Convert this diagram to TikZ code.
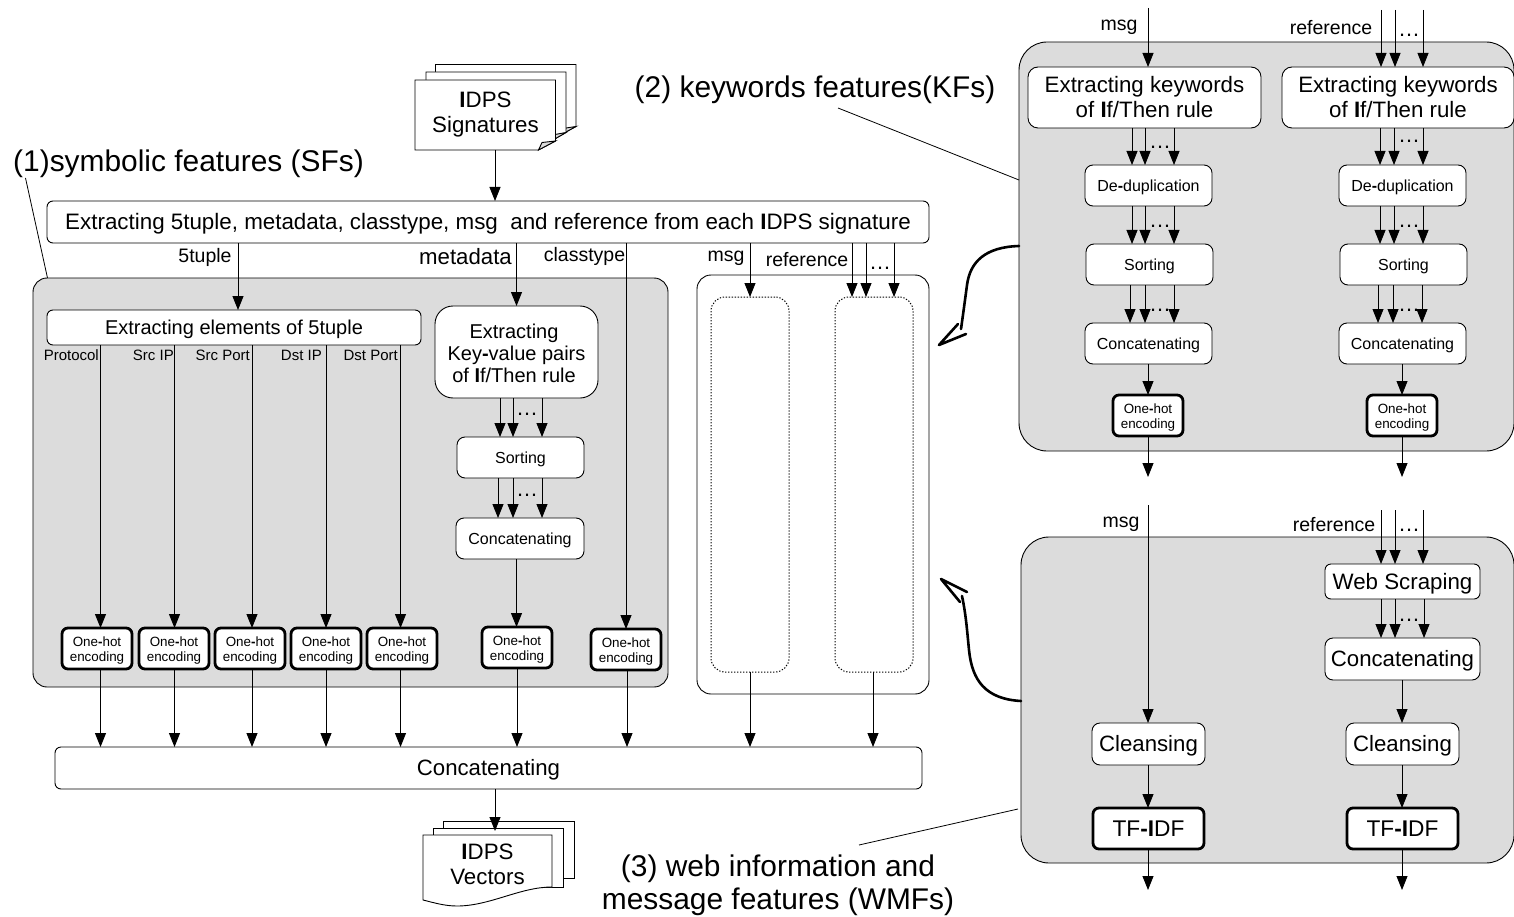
\documentclass[tikz,border=0pt]{standalone}
\usepackage{fontspec}
\setmainfont{Liberation Sans}
\usetikzlibrary{arrows.meta}
\newcommand\fs[2]{\fontsize{#1}{#2}\selectfont}
\newcommand\bI{\textbf{I}}
\newcommand\bh{\textbf{-}}
\newcommand\dn{\rule{0pt}{\dimexpr.74em+4pt\relax}}
\newcommand\bx[7][]{\node[#1,minimum width={((#5)-(#3))*1pt},minimum height={((#6)-(#4))*1pt}] (#2) at ({((#3)+(#5))/2},{((#4)+(#6))/2}) {#7};}
\newcommand\cn[3]{\draw[arr] (#1.south -| #3,0) -- (#2.north -| #3,0);}
\newcommand\ohot[5]{\bx[onehot]{#1}{#2+1}{#3+1}{#4-1}{#5-1}{\dn One\bh hot\\encoding}}
\tikzset{
  base/.style={draw=black,line width=0.9pt,inner sep=0pt,outer sep=0pt,align=center,text=black},
  panel/.style={base,fill=panelgray,rounded corners=#1},
  panel/.default=14pt,
  wbox/.style={base,fill=white,rounded corners=8pt},
  onehot/.style={base,fill=white,rounded corners=6pt,line width=2.8pt,font=\fs{13.4}{15}},
  tfidf/.style={base,fill=white,rounded corners=6pt,line width=2.8pt,font=\fs{22.7}{26}},
  dotbox/.style={draw=black,line width=1pt,dash pattern=on 1.3pt off 1.7pt,rounded corners=14pt,inner sep=0pt,outer sep=0pt},
  arr/.style={draw=black,line width=0.9pt,-{Triangle[length=14pt,width=11pt]}},
  plain/.style={draw=black,line width=0.8pt},
  small/.style={font=\fs{15}{16},inner sep=0pt,anchor=east},
  mid/.style={font=\fs{19.5}{22},inner sep=0pt},
  big/.style={font=\fs{29.9}{33},inner sep=0pt,align=center},
  dots/.style={font=\fs{22}{22},inner sep=0pt},
  page/.style={draw=black,line width=0.9pt,fill=white},
  fold/.style={draw=black,line width=0.9pt,fill=panelgray},
  thick curve/.style={draw=black,line width=2.6pt,line cap=round,line join=round},
  sm/.style={font=\fs{16}{19}},
  md/.style={font=\fs{22.3}{25}},
}
\definecolor{panelgray}{HTML}{DCDCDC}
\begin{document}
\begin{tikzpicture}[x=1pt,y=-1pt]
\useasboundingbox (0,0) rectangle (1514,917);
% panels
\bx[panel]{sfp}{33}{278}{668}{687}{}
\bx[base,fill=white,rounded corners=14pt]{wp}{697}{275}{929}{694}{}
\bx[dotbox]{d1}{711}{297}{789}{672}{}
\bx[dotbox]{d2}{835}{297}{913}{672}{}
\bx[panel=28pt]{kfp}{1019}{42}{1514}{451}{}
\bx[panel=28pt]{wmp}{1021}{537}{1514}{863}{}
% signature stack
\draw[page] (435.5,64.5) -- (576,64.5) -- (576,126.5) -- (564,133) -- (435.5,133) -- cycle;
\draw[fold] (576,126.5) -- (564,133) -- (566,128) -- cycle;
\draw[page] (426,72) -- (566,72) -- (566,132.5) -- (553,140) -- (426,140) -- cycle;
\draw[fold] (566,132.5) -- (553,140) -- (555,134.5) -- cycle;
\draw[page] (415,80) -- (555.5,80) -- (555.5,141) -- (538.5,150) -- (415,150) -- cycle;
\draw[fold] (555.5,141) -- (538.5,150) -- (542,142.5) -- cycle;
\node[inner sep=0pt,outer sep=0pt,minimum width=140.5pt,minimum height=70pt] (sig) at (485.25,115) {};
\node[md,inner sep=0pt,align=center] (sigt) at (485.5,114.5) {\bI DPS\\Signatures};
% vector stack
\draw[page] (443,821) rectangle (574,878);
\draw[page] (433,828) rectangle (563,887);
\draw[page] (423,835) -- (552,835) -- (552,887) .. controls (520,887) and (490,906) .. (457,906) .. controls (445,906) and (435,903) .. (423,900) -- cycle;
\coordinate (vtop) at (495,831);
\node[md,inner sep=0pt,align=center] (vect) at (487.5,864) {\bI DPS\\Vectors};
% main boxes
\bx[wbox,font=\fs{22.37}{24},rounded corners=6pt]{ext}{47}{201}{929}{243}{\dn Extracting 5tuple, metadata, classtype, msg\ \ and reference from each \bI DPS signature}
\bx[wbox,font=\fs{20}{22},rounded corners=6pt]{elem}{47}{310}{421}{345}{\dn Extracting elements of 5tuple}
\bx[wbox,font=\fs{20}{22},rounded corners=18pt]{kv}{435}{306}{598}{398}{\rule{0pt}{\dimexpr.74em+2pt\relax}Extracting\hspace*{5pt}\\Key\bh value pairs\hspace*{5pt}\\of \bI f/Then rule\hspace*{5pt}}
\bx[wbox,sm]{sort1}{457}{437}{584}{478}{\dn Sorting}
\bx[wbox,sm]{conc1}{456}{518}{584}{559}{\dn Concatenating}
\ohot{oh1}{61}{627}{133}{670}
\ohot{oh2}{138}{627}{210}{670}
\ohot{oh3}{214}{627}{286}{670}
\ohot{oh4}{290}{627}{362}{670}
\ohot{oh5}{366}{627}{438}{670}
\ohot{oh6}{481}{626}{553}{669}
\ohot{oh7}{590}{628}{662}{671}
\bx[wbox,font=\fs{22.2}{24},rounded corners=6pt]{concat}{55}{747}{922}{789}{\dn Concatenating}
% KF
\bx[wbox,font=\fs{22.3}{25},rounded corners=10pt]{kk1}{1028}{67}{1261}{128}{Extracting keywords\\of \bI f/Then rule}
\bx[wbox,font=\fs{22.3}{25},rounded corners=10pt]{kk2}{1282}{67}{1514}{128}{Extracting keywords\\of \bI f/Then rule}
\bx[wbox,sm]{dd1}{1085}{165}{1212}{206}{\dn De\bh duplication}
\bx[wbox,sm]{dd2}{1339}{165}{1466}{206}{\dn De\bh duplication}
\bx[wbox,sm]{so1}{1086}{244}{1213}{285}{\dn Sorting}
\bx[wbox,sm]{so2}{1340}{244}{1467}{285}{\dn Sorting}
\bx[wbox,sm]{cc1}{1085}{323}{1212}{364}{\dn Concatenating}
\bx[wbox,sm]{cc2}{1339}{323}{1466}{364}{\dn Concatenating}
\ohot{kh1}{1112}{394}{1184}{437}
\ohot{kh2}{1366}{394}{1438}{437}
% WMF
\bx[wbox,font=\fs{22.3}{26},rounded corners=6pt]{web}{1325}{564}{1480}{599}{\dn Web Scraping}
\bx[wbox,font=\fs{22.2}{26}]{wc}{1325}{638}{1480}{680}{\dn Concatenating}
\bx[wbox,font=\fs{22.2}{26}]{cl1}{1092}{723}{1205}{765}{\dn Cleansing}
\bx[wbox,font=\fs{22.2}{26}]{cl2}{1346}{723}{1459}{765}{\dn Cleansing}
\bx[tfidf]{tf1}{1092+1}{807+1}{1205-1}{850-1}{TF\bh \bI DF}
\bx[tfidf]{tf2}{1346+1}{807+1}{1459-1}{850-1}{TF\bh \bI DF}
% free ends
\coordinate (km) at (1148,8);
\coordinate (kr) at (1381,10);
\coordinate (ko1) at (1148,477);
\coordinate (ko2) at (1402,477);
\coordinate (wm) at (1148,505);
\coordinate (wr) at (1381,510);
\coordinate (wo1) at (1148,890);
\coordinate (wo2) at (1402,890);
% connectors
\draw[arr] (sig.south -| 495,0) -- (ext.north -| 495,0);
\cn{ext}{elem}{238}
\cn{ext}{kv}{516.5}
\cn{ext}{oh7}{626}
\cn{ext}{d1}{750}
\cn{ext}{d2}{852}
\cn{ext}{d2}{866}
\cn{ext}{d2}{894}
\cn{elem}{oh1}{100.5}
\cn{elem}{oh2}{174.5}
\cn{elem}{oh3}{252}
\cn{elem}{oh4}{326}
\cn{elem}{oh5}{400.5}
\foreach \x in {500,513,542}{\cn{kv}{sort1}{\x}}
\foreach \x in {498,513,542}{\cn{sort1}{conc1}{\x}}
\cn{conc1}{oh6}{516.5}
\cn{oh1}{concat}{100.5}
\cn{oh2}{concat}{174.5}
\cn{oh3}{concat}{252}
\cn{oh4}{concat}{326}
\cn{oh5}{concat}{400.5}
\cn{oh6}{concat}{517}
\cn{oh7}{concat}{627}
\cn{d1}{concat}{750}
\cn{d2}{concat}{873}
\draw[arr] (concat.south -| vtop) -- (vtop);
\draw[arr] (km) -- (kk1.north -| km);
\foreach \x in {1381,1395,1423}{\draw[arr] (\x,0 |- kr) -- (kk2.north -| \x,0);}
\foreach \x in {1132,1145,1174}{\cn{kk1}{dd1}{\x}\cn{dd1}{so1}{\x}}
\foreach \x in {1130,1145,1174}{\cn{so1}{cc1}{\x}}
\foreach \x in {1380,1394,1423}{\cn{kk2}{dd2}{\x}\cn{dd2}{so2}{\x}}
\foreach \x in {1378,1393,1422}{\cn{so2}{cc2}{\x}}
\cn{cc1}{kh1}{1148}
\cn{cc2}{kh2}{1402}
\draw[arr] (kh1.south -| ko1) -- (ko1);
\draw[arr] (kh2.south -| ko2) -- (ko2);
\draw[arr] (wm) -- (cl1.north -| wm);
\foreach \x in {1381,1395,1423}{\draw[arr] (\x,0 |- wr) -- (web.north -| \x,0);}
\foreach \x in {1381,1395,1424}{\cn{web}{wc}{\x}}
\cn{wc}{cl2}{1402}
\cn{cl1}{tf1}{1148}
\cn{cl2}{tf2}{1402}
\draw[arr] (tf1.south -| wo1) -- (wo1);
\draw[arr] (tf2.south -| wo2) -- (wo2);
% dots
\node[dots] (dk1) at (527,414.5) {\ldots};
\node[dots] (dk2) at (527,495.5) {\ldots};
\node[dots] (dk3) at (880,268.5) {\ldots};
\node[dots] (dk4) at (1160,147.5) {\ldots};
\node[dots] (dk5) at (1160,226.5) {\ldots};
\node[dots] (dk6) at (1160,310.5) {\ldots};
\node[dots] (dk7) at (1409,35.5) {\ldots};
\node[dots] (dk8) at (1409,141.5) {\ldots};
\node[dots] (dk9) at (1409,226.5) {\ldots};
\node[dots] (dk10) at (1409,310.5) {\ldots};
\node[dots] (dk11) at (1409,530.5) {\ldots};
\node[dots] (dk12) at (1409,620.5) {\ldots};
% labels
\node[small] (lp) at (99,355) {Protocol};
\node[small] (ls) at (174,355) {Src IP};
\node[small] (lsp) at (250,355) {Src Port};
\node[small] (ld) at (322,355) {Dst IP};
\node[small] (ldp) at (398,355) {Dst Port};
\node[mid] (l5) at (205,257) {5tuple};
\node[mid,font=\fs{22.2}{24}] (lm) at (465.5,257) {metadata};
\node[mid] (lc) at (584.5,256) {classtype};
\node[mid] (lmsg) at (726,258) {msg};
\node[mid] (lref) at (807,259.5) {reference};
\node[mid] (lk1) at (1119,27) {msg};
\node[mid] (lk2) at (1331,28) {reference};
\node[mid] (lw1) at (1121,524) {msg};
\node[mid] (lw2) at (1334,525) {reference};
\node[big] (tsf) at (188.5,164) {(1)symbolic features (SFs)};
\node[big] (tkf) at (815,90) {(2) keywords features(KFs)};
\node[big] (twm) at (778,885.5) {(3) web information and\\message features (WMFs)};
% leader lines
\coordinate (a1) at (25.5,178);
\coordinate (a2) at (838,108);
\coordinate (a3) at (859,845);
\draw[plain] (a1) -- (47.5,278);
\draw[plain] (a2) -- (1019,180);
\draw[plain] (a3) -- (1018,809);
% thick curved arrows
\draw[thick curve] (kfp.west |- 0,246) .. controls (985,247) and (970,262) .. (967,285) .. controls (965,300) and (963,315) .. (961,329);
\draw[thick curve] (958,324) -- (939,345) -- (966,334);
\draw[thick curve] (wmp.west |- 0,701) .. controls (985,699) and (972,680) .. (969,650) .. controls (967,630) and (966,615) .. (962,596);
\draw[thick curve] (960,602) -- (941,579) -- (967,592);
\end{tikzpicture}
\end{document}
